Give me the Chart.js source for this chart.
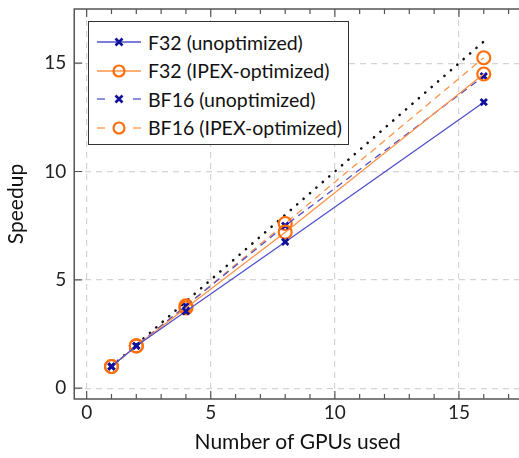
<!DOCTYPE html>
<html>
<head>
<meta charset="utf-8">
<script src="https://cdn.jsdelivr.net/npm/chart.js@4.4.1/dist/chart.umd.min.js"></script>
<style>
  html, body { margin: 0; padding: 0; background: #fff; }
  #wrap { position: relative; width: 519px; height: 458px; overflow: hidden; }
  #legend {
    position: absolute; left: 88px; top: 21px; width: 259px; height: 122px;
    border: 1px solid #333; background: #fff; font-family: Lato, sans-serif;
    font-size: 19.5px; color: #111;
  }
  .row { position: absolute; left: 0; height: 24px; display: flex; align-items: center; }
  .row svg { margin-left: 8px; margin-right: 5px; }
</style>
</head>
<body>
<div id="wrap">
  <canvas id="speedupChart" width="521" height="458"></canvas>
  <div id="legend"></div>
</div>
<script>
const gpus = [1, 2, 4, 8, 16];
const f32Unopt = [1, 1.95, 3.55, 6.75, 13.2];
const f32Ipex = [1, 1.95, 3.7, 7.2, 14.5];
const bf16Unopt = [1, 1.95, 3.8, 7.5, 14.4];
const bf16Ipex = [1, 1.95, 3.8, 7.6, 15.25];
const ideal = [1, 2, 4, 8, 16];

const xTicks = [0, 5, 10, 15];
const yTicks = [0, 5, 10, 15];

const blueLine = '#5050cc';
const blueMark = '#10109a';
const orangeLine = '#ff9448';
const orangeMark = '#ff6e0a';

const toPoints = (values) => gpus.map((g, i) => ({ x: g, y: values[i] }));

const seriesDefs = [
  { label: 'F32 (unoptimized)', values: f32Unopt, line: blueLine, mark: blueMark, style: 'crossRot', dash: [] },
  { label: 'F32 (IPEX-optimized)', values: f32Ipex, line: orangeLine, mark: orangeMark, style: 'circle', dash: [] },
  { label: 'BF16 (unoptimized)', values: bf16Unopt, line: blueLine, mark: blueMark, style: 'crossRot', dash: [7, 5] },
  { label: 'BF16 (IPEX-optimized)', values: bf16Ipex, line: orangeLine, mark: orangeMark, style: 'circle', dash: [7, 5] },
];

const datasets = seriesDefs.map(s => ({
  label: s.label,
  data: toPoints(s.values),
  borderColor: s.line,
  borderWidth: 1.3,
  borderDash: s.dash,
  pointStyle: s.style,
  pointRadius: s.style === 'circle' ? 6.5 : 4.5,
  pointBorderWidth: s.style === 'circle' ? 2.2 : 2.8,
  pointBorderColor: s.mark,
  pointBackgroundColor: 'rgba(0,0,0,0)',
  fill: false,
  tension: 0
}));

datasets.push({
  label: 'ideal',
  data: toPoints(ideal),
  borderColor: '#111',
  borderWidth: 2.6,
  borderDash: [0.1, 8.4],
  borderCapStyle: 'round',
  pointRadius: 0,
  fill: false,
  tension: 0
});

// frame and inward tick marks
const frameTicks = {
  id: 'frameTicks',
  afterDraw(chart) {
    const { ctx, chartArea: a, scales } = chart;
    ctx.save();
    ctx.strokeStyle = '#555';
    ctx.lineWidth = 1.5;
    ctx.strokeRect(a.left, a.top, a.right - a.left, a.bottom - a.top);
    ctx.lineWidth = 1.2;
    ctx.beginPath();
    for (let v = 0; v <= 17; v++) {
      const px = scales.x.getPixelForValue(v);
      const len = v % 5 === 0 ? 8 : 5;
      ctx.moveTo(px, a.bottom); ctx.lineTo(px, a.bottom - len);
      ctx.moveTo(px, a.top); ctx.lineTo(px, a.top + len);
    }
    for (const v of yTicks) {
      const py = scales.y.getPixelForValue(v);
      ctx.moveTo(a.left, py); ctx.lineTo(a.left + 8, py);
    }
    ctx.stroke();
    ctx.restore();
  }
};

// end labels sit well inside the range, so no edge padding is needed
const noEdgePadding = (scale) => {
  scale.paddingTop = 0;
  scale.paddingBottom = 0;
  scale.paddingLeft = 0;
  scale.paddingRight = 0;
};

const gridStyle = {
  color: '#d4d4d4',
  lineWidth: 1.2,
  drawTicks: false,
};

new Chart(document.getElementById('speedupChart'), {
  type: 'line',
  data: { datasets },
  plugins: [frameTicks],
  options: {
    responsive: false,
    animation: false,
    layout: { autoPadding: false, padding: { top: 9, right: 0, left: 4, bottom: 3 } },
    plugins: { legend: { display: false }, tooltip: { enabled: false } },
    scales: {
      x: {
        type: 'linear', min: -0.5, max: 17.5,
        afterBuildTicks: (scale) => { scale.ticks = xTicks.map(v => ({ value: v })); },
        afterFit: noEdgePadding,
        grid: gridStyle,
        border: { display: false, dash: [6, 5] },
        ticks: { padding: 2, color: '#222', font: { family: 'Lato', size: 19 } },
        title: { display: true, text: 'Number of GPUs used', color: '#111', font: { family: 'Lato', size: 21 }, padding: { top: 4, bottom: 0 } }
      },
      y: {
        type: 'linear', min: -0.5, max: 17.5,
        afterBuildTicks: (scale) => { scale.ticks = yTicks.map(v => ({ value: v })); },
        afterFit: noEdgePadding,
        grid: gridStyle,
        border: { display: false, dash: [6, 5] },
        ticks: { padding: 8, color: '#222', font: { family: 'Lato', size: 19 } },
        title: { display: true, text: 'Speedup', color: '#111', font: { family: 'Lato', size: 21 }, padding: { top: 0, bottom: 7 } }
      }
    }
  }
});

// legend
const legendElem = document.getElementById('legend');
seriesDefs.forEach((s, i) => {
  const row = document.createElement('div');
  row.className = 'row';
  row.style.top = `${8 + i * 28.5}px`;
  const marker = s.style === 'circle'
    ? `<circle cx="22" cy="12" r="5.5" fill="none" stroke="${s.mark}" stroke-width="2.2"/>`
    : `<path d="M18.5 8.5 L25.5 15.5 M25.5 8.5 L18.5 15.5" stroke="${s.mark}" stroke-width="2.6"/>`;
  const lineSample = s.dash.length
    ? `<line x1="0" y1="12" x2="8" y2="12" stroke="${s.line}" stroke-width="1.3"/><line x1="36" y1="12" x2="44" y2="12" stroke="${s.line}" stroke-width="1.3"/>`
    : `<line x1="0" y1="12" x2="44" y2="12" stroke="${s.line}" stroke-width="1.3"/>`;
  row.innerHTML = `<svg width="46" height="24">${lineSample}${marker}</svg><span>${s.label}</span>`;
  legendElem.appendChild(row);
});
</script>
</body>
</html>
